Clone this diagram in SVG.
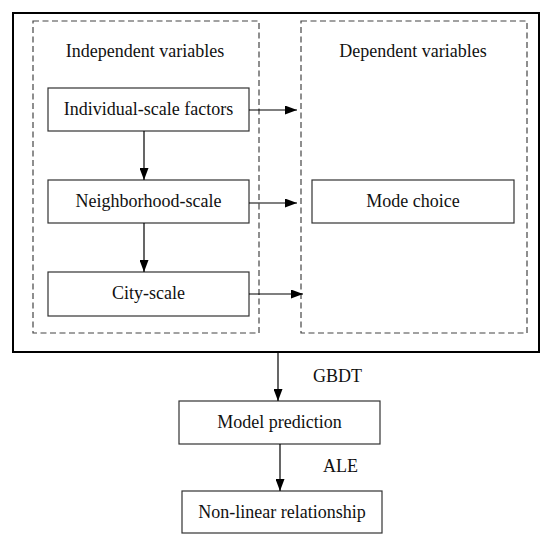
<svg xmlns="http://www.w3.org/2000/svg" width="550" height="542" viewBox="0 0 550 542">
<style>
.box{fill:#fff;stroke:#333;stroke-width:1.2}
.dash{fill:none;stroke:#444;stroke-width:1.2;stroke-dasharray:6,3.5}
.t{font-family:"Liberation Serif","Times New Roman",serif;font-size:18px;fill:#111;text-anchor:middle}
.tl{font-family:"Liberation Serif","Times New Roman",serif;font-size:18px;fill:#111}
.ln{stroke:#000;stroke-width:1.2;fill:none;marker-end:url(#ah)}
</style>
<defs>
<marker id="ah" markerWidth="12" markerHeight="9" refX="12" refY="4.5" orient="auto" markerUnits="userSpaceOnUse">
<path d="M0,0 L12,4.5 L0,9 Z" fill="#000"/>
</marker>
</defs>
<rect width="550" height="542" fill="#fff"/>
<g id="outer"><rect x="13" y="13" width="526" height="339" fill="none" stroke="#000" stroke-width="2"/></g>
<g id="independent"><rect class="dash" x="33" y="21" width="226" height="312"/><text class="t" x="145" y="57">Independent variables</text></g>
<g id="dependent"><rect class="dash" x="301" y="21" width="226" height="312"/><text class="t" x="413" y="57">Dependent variables</text></g>
<g id="individual"><rect class="box" x="48" y="88" width="201" height="43"/><text class="t" x="148.5" y="115">Individual-scale factors</text></g>
<g id="neighborhood"><rect class="box" x="48" y="180" width="201" height="43"/><text class="t" x="148.5" y="207">Neighborhood-scale</text></g>
<g id="city"><rect class="box" x="48" y="272" width="201" height="44"/><text class="t" x="148.5" y="299">City-scale</text></g>
<g id="mode"><rect class="box" x="312" y="180" width="202" height="43"/><text class="t" x="413" y="207">Mode choice</text></g>
<g id="model"><rect class="box" x="179" y="401" width="201" height="43"/><text class="t" x="279.5" y="428">Model prediction</text></g>
<g id="nonlinear"><rect class="box" x="182" y="491" width="200" height="42"/><text class="t" x="282" y="518">Non-linear relationship</text></g>
<g id="connectors">
<line class="ln" x1="144" y1="131" x2="144" y2="180"/>
<line class="ln" x1="144" y1="223" x2="144" y2="272"/>
<line class="ln" x1="249" y1="110" x2="297" y2="110"/>
<line class="ln" x1="249" y1="203" x2="297" y2="203"/>
<line class="ln" x1="249" y1="294" x2="303" y2="294"/>
<line class="ln" x1="278" y1="352" x2="278" y2="401"/>
<line class="ln" x1="280" y1="444" x2="280" y2="491"/>
<text class="tl" x="313" y="382">GBDT</text>
<text class="tl" x="323" y="472">ALE</text>
</g>
</svg>
